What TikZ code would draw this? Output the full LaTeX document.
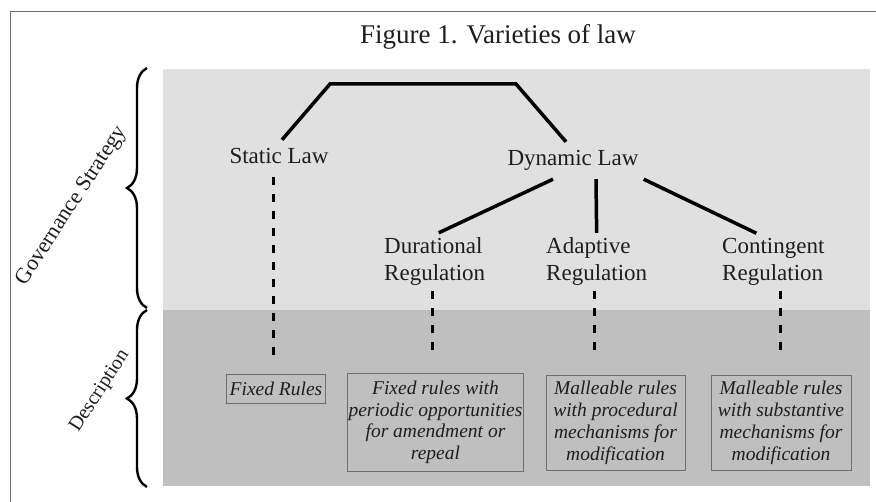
\documentclass[tikz,border=0pt]{standalone}
\usepackage{fontspec}
\setmainfont{Liberation Serif}
\usetikzlibrary{decorations.pathreplacing}
\definecolor{paneltop}{HTML}{E0E0E0}
\definecolor{panelbot}{HTML}{BFBFBF}
\definecolor{ink}{HTML}{1E1E1E}
\definecolor{rim}{HTML}{6E6E6E}
\begin{document}
\begin{tikzpicture}[x=1pt, y=-1pt,
    lawnode/.style={text=ink, font=\fontsize{23}{27}\selectfont, text height=16pt, text depth=5pt, inner ysep=8pt, inner xsep=0pt, anchor=base},
    regnode/.style={text=ink, font=\fontsize{23}{27}\selectfont, align=left, inner ysep=5pt, inner xsep=0pt, anchor=west},
    descbox/.style={draw=rim, line width=.8pt, text=ink, font=\fontsize{19.5}{21.7}\selectfont\itshape, align=center, anchor=north, inner ysep=6pt, inner xsep=1pt},
    branch/.style={line width=3.5pt},
    dashline/.style={line width=3pt, dash pattern=on 8pt off 9pt},
    bracket/.style={decorate, decoration={brace, amplitude=20pt}, line width=2.4pt}]

\useasboundingbox[fill=white](0,0) rectangle (876,502);
\draw[rim, line width=1pt](10,502)--(10,12)--(876,12);
\node[text=ink, font=\fontsize{27}{30}\selectfont, anchor=base] (title) at (498,44) {Figure 1. Varieties of law};

\fill[paneltop](163,69) rectangle (870,310);
\fill[panelbot](163,310) rectangle (870,486);

\draw[bracket](147,308)--(147,68);
\draw[bracket](147,487)--(147,310);
\node[text=ink, font=\fontsize{22}{24}\selectfont, rotate=57] (govern) at (72,206) {Governance Strategy};
\node[text=ink, font=\fontsize{20}{22}\selectfont, rotate=57] (descr) at (100,391) {Description};

\node[lawnode] (static) at (279,164) {Static Law};
\node[lawnode] (dynamic) at (573,166) {Dynamic Law};
\node[regnode] (durational) at (384,262) {Durational\\Regulation};
\node[regnode] (adaptive) at (546,262) {Adaptive\\Regulation};
\node[regnode] (contingent) at (722,262) {Contingent\\Regulation};

\node[descbox, minimum height=29pt, inner xsep=3pt] (fixed) at (276,374) {Fixed Rules};
\node[descbox, minimum width=175pt, minimum height=98pt] (periodic) at (435.5,373) {Fixed rules with\\periodic opportunities\\for amendment or\\repeal};
\node[descbox, minimum width=139pt, minimum height=94pt] (procedural) at (615.5,375) {Malleable rules\\with procedural\\mechanisms for\\modification};
\node[descbox, minimum width=140pt, minimum height=94pt] (substantive) at (781,375) {Malleable rules\\with substantive\\mechanisms for\\modification};

\coordinate (rootL) at (330,84);
\coordinate (rootR) at (516,84);
\draw[branch]([xshift=3pt]static.north)--(rootL)--(rootR)--([xshift=-7pt]dynamic.north);
\draw[branch]([xshift=-20pt]dynamic.south)--([xshift=4pt]durational.north);
\draw[branch]([xshift=23pt]dynamic.south)--(adaptive.north);
\draw[branch]([xshift=5pt]dynamic.south east)--([xshift=-17pt]contingent.north);

\coordinate (staticend) at (273,357);
\coordinate (durend) at (432,352);
\coordinate (adaend) at (594,352);
\coordinate (conend) at (780,352);
\draw[dashline](static.south -| staticend)--(staticend);
\draw[dashline](durational.south -| durend)--(durend);
\draw[dashline](adaptive.south -| adaend)--(adaend);
\draw[dashline](contingent.south -| conend)--(conend);
\end{tikzpicture}
\end{document}
